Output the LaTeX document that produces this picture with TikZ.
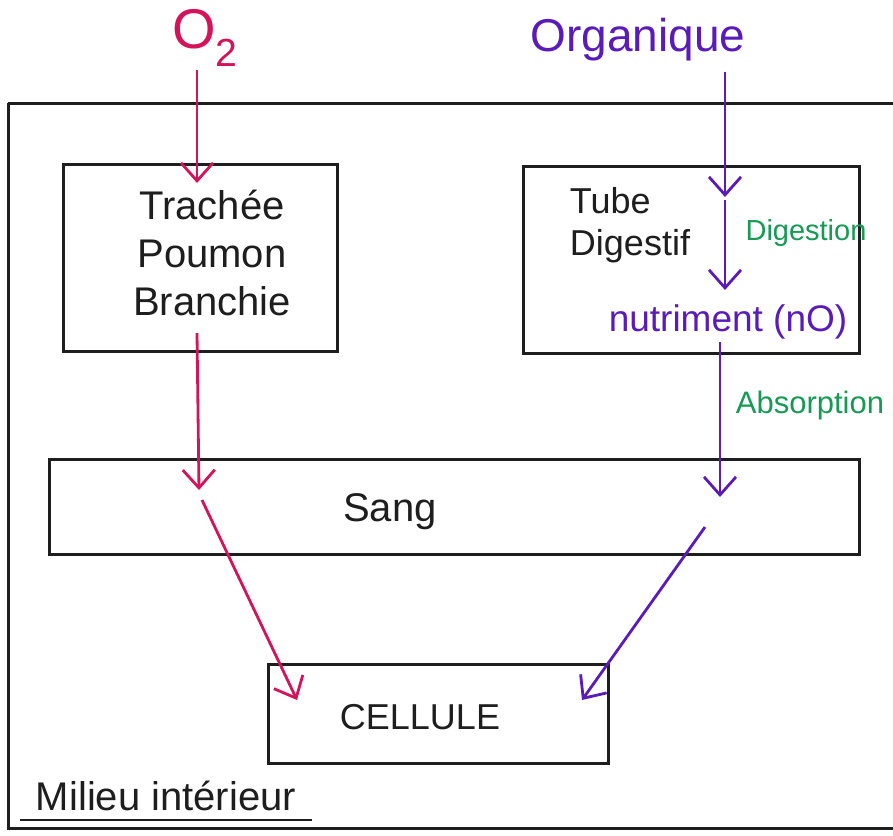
\documentclass[tikz,border=0pt]{standalone}
\usepackage{fontspec}
\setmainfont{Liberation Sans}
\usetikzlibrary{arrows.meta}
\definecolor{redink}{HTML}{D4145A}
\definecolor{purpleink}{HTML}{5A1CB8}
\definecolor{greenink}{HTML}{179A55}
\definecolor{blackink}{HTML}{1E1E1E}
\tikzset{
  box/.style={draw=blackink,line width=3pt},
  redarrow/.style={draw=redink,line width=2.8pt,-{Straight Barb[length=18pt,width=32pt,line width=2.8pt]}},
  purplearrow/.style={draw=purpleink,line width=2.8pt,-{Straight Barb[length=18pt,width=32pt,line width=2.8pt]}},
  boxtext/.style={text=blackink,font=\fontsize{40}{48}\selectfont,align=center},
  greentext/.style={text=greenink,font=\fontsize{31}{36}\selectfont},
}
\begin{document}
\begin{tikzpicture}[x=1pt,y=-1pt]
\useasboundingbox (0,0) rectangle (893,835);
\fill[white] (0,0) rectangle (893,835);
% outer box (milieu interieur)
\draw[box] (8,103) -- (900,103);
\draw[box] (8,103) -- (8,828) -- (900,828);
% boxes
\node[box,minimum width=274pt,minimum height=187pt,anchor=north west] (trachee) at (62,163) {};
\node[boxtext] (tracheetext) at (212,253) {Trachée\\Poumon\\Branchie};
\node[box,minimum width=336pt,minimum height=187pt,anchor=north west] (tube) at (522,165) {};
\node[boxtext,align=left,font=\fontsize{36}{42}\selectfont] (tubetext) at (630,225) {Tube\\Digestif};
\node[box,minimum width=810pt,minimum height=95pt,anchor=north west] (sang) at (48,458) {};
\node[boxtext] (sangtext) at (390,512) {Sang};
\node[box,minimum width=340pt,minimum height=99pt,anchor=north west] (cellule) at (267,663) {};
\node[boxtext,font=\fontsize{36}{40}\selectfont] (celluletext) at (420,717) {CELLULE};
% top labels
\node[text=redink,font=\fontsize{56}{60}\selectfont] (o2) at (205,38) {O\textsubscript{2}};
\node[text=purpleink,font=\fontsize{46}{50}\selectfont] (orga) at (638,40) {Organique};
\node[text=purpleink,font=\fontsize{37}{42}\selectfont] (nutri) at (728,322) {nutriment (nO)};
\node[greentext,font=\fontsize{29}{34}\selectfont] (dig) at (806,233) {Digestion};
\node[greentext] (abs) at (810,405) {Absorption};
\node[text=blackink,font=\fontsize{40}{44}\selectfont] (milieu) at (166,796) {Milieu intérieur};
\draw[blackink,line width=2.6pt] (20,820) -- (312,820);
% coordinates
\coordinate (r1) at (197,183);
\coordinate (r2s) at (197,333);
\coordinate (r2e) at (199,490);
\coordinate (r3s) at (202,500);
\coordinate (r3e) at (297,700);
\coordinate (p1s) at (725,72);
\coordinate (p1e) at (725,197);
\coordinate (p2s) at (725,200);
\coordinate (p2e) at (725,290);
\coordinate (p3s) at (720,342);
\coordinate (p3e) at (720,497);
\coordinate (p4s) at (705,527);
\coordinate (p4e) at (582,700);
% red arrows
\draw[redarrow] (o2.south -| r1) -- (r1);
\draw[redarrow] (r2s) -- (r2e);
\draw[redarrow] (r3s) -- (r3e);
% purple arrows
\draw[purplearrow] (p1s) -- (p1e);
\draw[purplearrow] (p2s) -- (p2e);
\draw[purplearrow] (p3s) -- (p3e);
\draw[purplearrow] (p4s) -- (p4e);
\end{tikzpicture}
\end{document}
